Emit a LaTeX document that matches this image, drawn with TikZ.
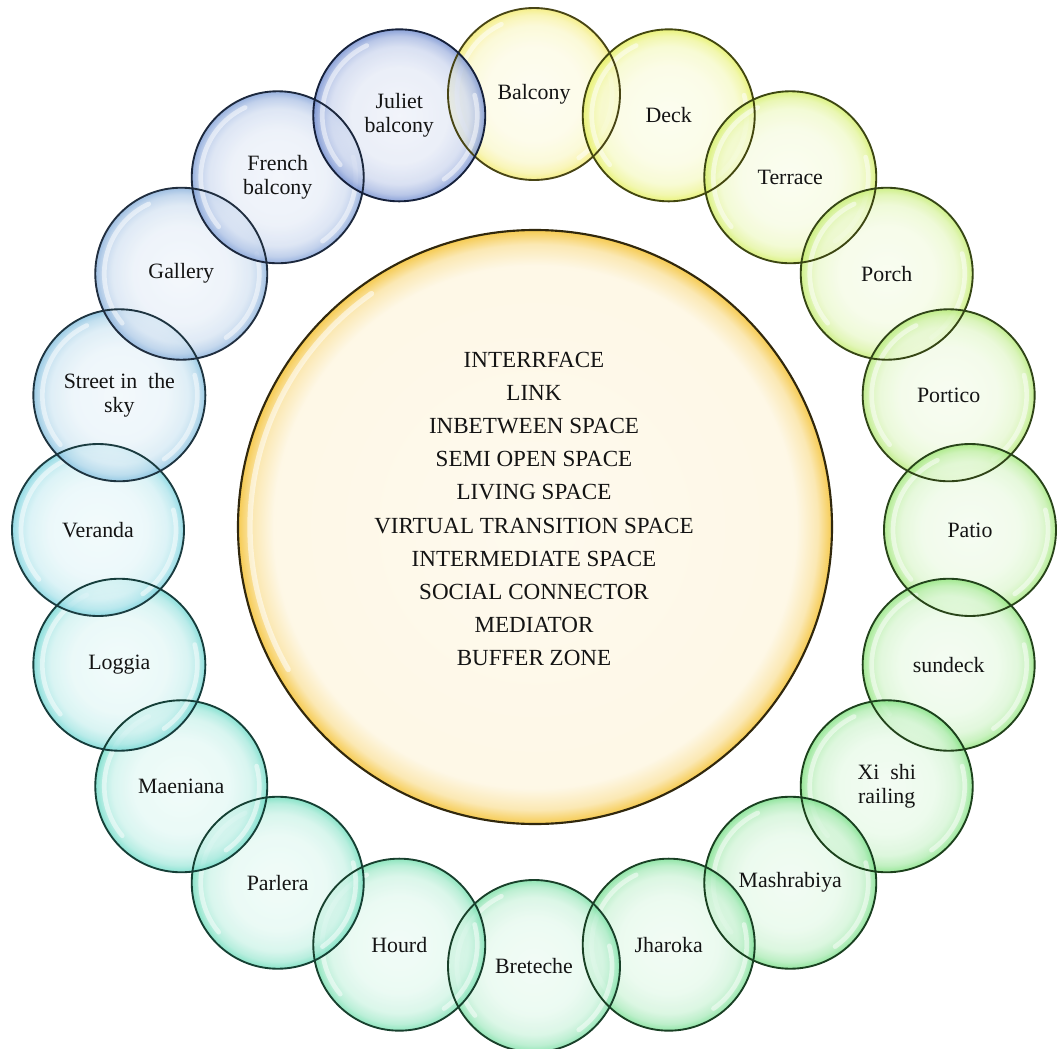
\documentclass[tikz,border=0pt]{standalone}
\usepackage{fontspec}
\setmainfont{Liberation Serif}
\usetikzlibrary{calc}

\pgfdeclarelayer{fills}
\pgfdeclarelayer{rims}
\pgfsetlayers{fills,rims,main}

% edge colours of the ring bubbles, clockwise from the top
\definecolor{col0}{RGB}{240,230,70}
\definecolor{col1}{RGB}{222,236,50}
\definecolor{col2}{RGB}{200,235,60}
\definecolor{col3}{RGB}{180,232,70}
\definecolor{col4}{RGB}{160,228,80}
\definecolor{col5}{RGB}{135,225,85}
\definecolor{col6}{RGB}{115,222,90}
\definecolor{col7}{RGB}{95,218,95}
\definecolor{col8}{RGB}{85,215,105}
\definecolor{col9}{RGB}{85,215,120}
\definecolor{col10}{RGB}{85,215,140}
\definecolor{col11}{RGB}{80,215,155}
\definecolor{col12}{RGB}{70,212,170}
\definecolor{col13}{RGB}{70,210,185}
\definecolor{col14}{RGB}{75,205,200}
\definecolor{col15}{RGB}{90,200,215}
\definecolor{col16}{RGB}{100,175,215}
\definecolor{col17}{RGB}{105,155,210}
\definecolor{col18}{RGB}{95,135,205}
\definecolor{col19}{RGB}{75,110,195}
\definecolor{hubgold}{RGB}{245,198,66}
\colorlet{bubcol}{white}

% glassy bubble: pale centre, tinted rim (25bp is the rim of the path)
\pgfdeclareradialshading[bubcol]{bubble}{\pgfpoint{0bp}{0bp}}{%
  color(0bp)=(bubcol!9!white); color(14bp)=(bubcol!14!white);
  color(20bp)=(bubcol!26!white); color(23bp)=(bubcol!48!white);
  color(25bp)=(bubcol!80!white); color(50bp)=(bubcol!80!white)}
% large central disc: cream with a thin golden rim
\pgfdeclareradialshading[bubcol]{hub}{\pgfpoint{0bp}{0bp}}{%
  color(0bp)=(bubcol!9!white); color(22bp)=(bubcol!13!white);
  color(23.8bp)=(bubcol!40!white); color(25bp)=(bubcol!92!white);
  color(50bp)=(bubcol!92!white)}

\begin{document}
\begin{tikzpicture}[x=0.75pt,y=-0.75pt,
  lbl/.style={align=center, inner sep=0pt, text=black!92,
    font=\fontsize{16.4}{18.5}\selectfont},
  hubtext/.style={align=center, inner sep=0pt, text=black!92,
    font=\fontsize{17.3}{24.8}\selectfont},
  rim/.style={line width=1.4pt, draw=bubcol!30!black},
  gloss/.style={white, line width=3.5pt, opacity=0.5, line cap=round}]
\useasboundingbox (0,0) rectangle (1057,1049);
\begin{pgfonlayer}{fills}
  \fill[white] (0,0) rectangle (1057,1049);
\end{pgfonlayer}

% central disc
\coordinate (hubc) at (535,527);
\node[hubtext] (hub) at (534,509) {INTERRFACE\\LINK\\INBETWEEN SPACE\\SEMI OPEN SPACE\\LIVING SPACE\\VIRTUAL TRANSITION SPACE\\INTERMEDIATE SPACE\\SOCIAL CONNECTOR\\MEDIATOR\\BUFFER ZONE};
\begin{scope}
  \colorlet{bubcol}{hubgold}
  \begin{pgfonlayer}{fills}
    \shade[shading=hub] (hubc) circle[radius=297];
    \draw[gloss, line width=4pt, opacity=0.55] (hubc) ++(150:285) arc[start angle=150, end angle=235, radius=285];
  \end{pgfonlayer}
  \begin{pgfonlayer}{rims}
    \draw[line width=1.6pt, draw=black!80!hubgold] (hubc) circle[radius=297];
  \end{pgfonlayer}
\end{scope}

% ring of twenty bubbles
\begin{scope}[shift={(534,530)}]
\foreach \k/\t in {0/Balcony, 1/Deck, 2/Terrace, 3/Porch, 4/Portico, 5/Patio,
    6/sundeck, 7/{Xi\ \ shi\\railing}, 8/Mashrabiya, 9/Jharoka, 10/Breteche,
    11/Hourd, 12/Parlera, 13/Maeniana, 14/Loggia, 15/Veranda,
    16/{Street in\ \ the\\sky}, 17/Gallery, 18/{French\\balcony},
    19/{Juliet\\balcony}}{
  \colorlet{bubcol}{col\k}
  \node[lbl] (b\k) at (18*\k-90:436) {\t};
  \begin{pgfonlayer}{fills}
    \shade[shading=bubble, fill opacity=0.8] (b\k.center) circle[radius=86];
    \draw[gloss] (b\k.center) ++(140:77) arc[start angle=140, end angle=245, radius=77];
    \draw[gloss] (b\k.center) ++(-15:78) arc[start angle=-15, end angle=55, radius=78];
  \end{pgfonlayer}
  \begin{pgfonlayer}{rims}
    \draw[rim] (b\k.center) circle[radius=86];
  \end{pgfonlayer}
}
\end{scope}
\end{tikzpicture}
\end{document}
